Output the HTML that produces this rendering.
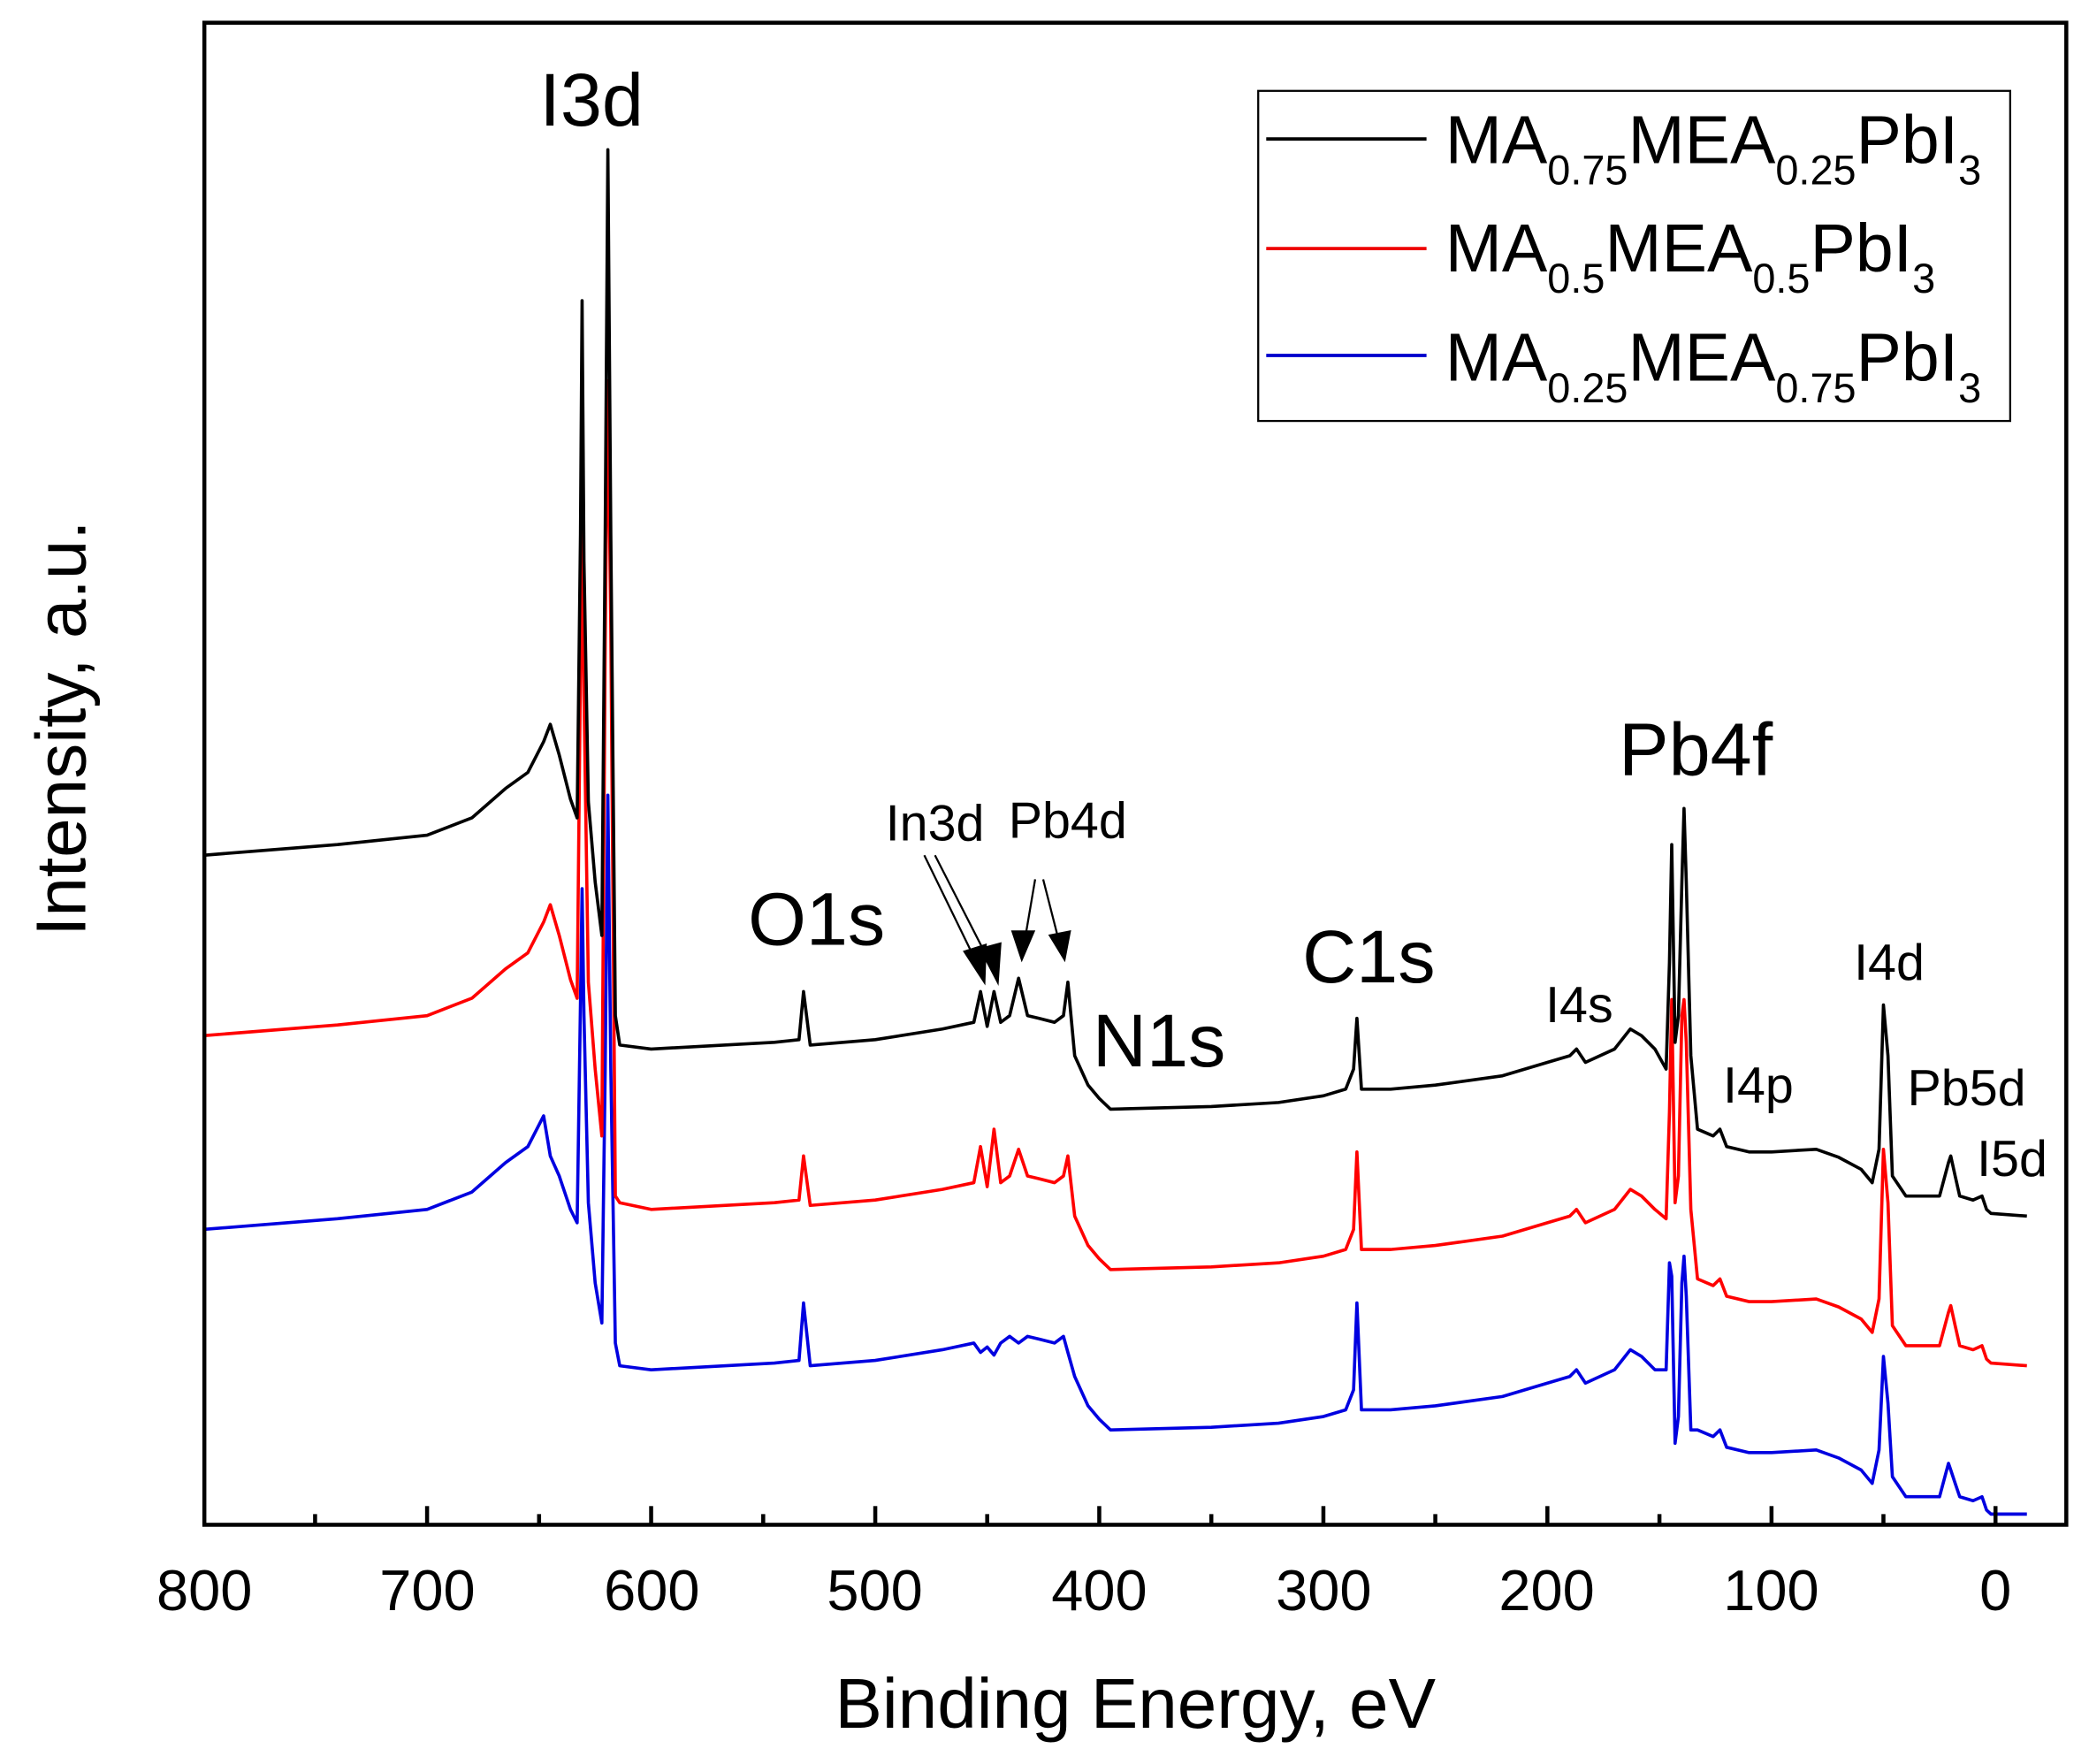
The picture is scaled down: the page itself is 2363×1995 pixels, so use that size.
<!DOCTYPE html>
<html><head><meta charset="utf-8"><style>
html,body{margin:0;padding:0;background:#fff;}
svg{display:block;}
text{font-family:"Liberation Sans",Arial,sans-serif;fill:#000;}
</style></head><body>
<svg width="2363" height="1995" viewBox="0 0 1564 1320" preserveAspectRatio="none" xmlns="http://www.w3.org/2000/svg">
<rect x="0" y="0" width="1564" height="1320" fill="#fff"/>
<g fill="none" stroke-width="2.4" stroke-linejoin="round">
<path stroke="#0000e0" d="M152,920 L252.6,912 L319.75,905 L353.3,892 L378.5,870 L395.2,858 L407,835 L412,865 L418.7,880 L427.1,905 L432.1,915 L434.6,750 L435.8,665 L437.2,760 L440.5,900 L445.6,960 L450.6,990 L453.1,800 L455.1,595 L457.3,800 L460.7,1005 L464,1022 L487.5,1025 L579.8,1020 L598.2,1018 L601.6,975 L606.6,1022 L655.3,1018 L705.6,1010 L729.1,1005 L734.1,1012 L739.1,1008 L744.2,1014 L749.2,1005 L755.9,1000 L762.6,1005 L769.3,1000 L777.7,1002 L789.5,1005 L796.2,1000 L799.5,1012 L804.6,1030 L814.6,1052 L823,1062 L831.4,1070 L906.9,1068 L957.2,1065 L990.8,1060 L1007.5,1055 L1013.4,1040 L1015.9,975 L1019.3,1055 L1041.1,1055 L1074.6,1052 L1124.9,1045 L1158.5,1035 L1175.3,1030 L1180.3,1025 L1187,1035 L1208.8,1025 L1220.6,1010 L1229,1015 L1239,1025 L1247.4,1025 L1249.9,945 L1251.6,955 L1254.1,1080 L1256.6,1060 L1259.2,960 L1260.8,940 L1262.5,970 L1265.9,1070 L1270.9,1070 L1282.6,1075 L1287.7,1070 L1292.7,1083 L1309.5,1087 L1326.3,1087 L1359.8,1085 L1376.6,1091 L1393.4,1100 L1401.7,1110 L1406.8,1085 L1410.1,1015 L1413.5,1050 L1416.8,1105 L1426.9,1120 L1452.1,1120 L1458.8,1095 L1460.5,1100 L1463.8,1110 L1467.2,1120 L1477.2,1123 L1483.9,1120 L1487.3,1130 L1490.6,1133 L1517.5,1133"/>
<path stroke="#ff0000" d="M152,775 L252.6,767 L319.75,760 L353.3,747 L378.5,725 L395.2,713 L407,690 L412,677 L418.7,700 L427.1,733 L432.1,747 L434.6,500 L435.8,380 L437.2,520 L440.5,735 L445.6,800 L450.6,850 L453.1,480 L455.1,285 L457.3,470 L460.7,895 L464,900 L487.5,905 L579.8,900 L598.2,898 L601.6,865 L606.6,902 L655.3,898 L705.6,890 L729.1,885 L734.1,858 L739.1,888 L744.2,845 L749.2,885 L755.9,880 L762.6,860 L769.3,880 L777.7,882 L789.5,885 L796.2,880 L799.5,865 L804.6,910 L814.6,932 L823,942 L831.4,950 L906.9,948 L957.2,945 L990.8,940 L1007.5,935 L1013.4,920 L1015.9,862 L1019.3,935 L1041.1,935 L1074.6,932 L1124.9,925 L1158.5,915 L1175.3,910 L1180.3,905 L1187,915 L1208.8,905 L1220.6,890 L1229,895 L1239,905 L1247.4,912 L1249.9,832 L1251.6,748 L1254.1,900 L1256.6,880 L1259.2,760 L1260.8,748 L1262.5,780 L1265.9,905 L1270.9,957 L1282.6,962 L1287.7,957 L1292.7,970 L1309.5,974 L1326.3,974 L1359.8,972 L1376.6,978 L1393.4,987 L1401.7,997 L1406.8,972 L1410.1,860 L1413.5,900 L1416.8,992 L1426.9,1007 L1452.1,1007 L1458.8,982 L1460.5,977 L1463.8,992 L1467.2,1007 L1477.2,1010 L1483.9,1007 L1487.3,1017 L1490.6,1020 L1517.5,1022"/>
<path stroke="#000" d="M152,640 L252.6,632 L319.75,625 L353.3,612 L378.5,590 L395.2,578 L407,555 L412,542 L418.7,565 L427.1,598 L432.1,612 L434.6,400 L435.8,225 L437.2,420 L440.5,600 L445.6,660 L450.6,700 L453.1,400 L455.1,112 L457.3,400 L460.7,760 L464,782 L487.5,785 L579.8,780 L598.2,778 L601.6,742 L606.6,782 L655.3,778 L705.6,770 L729.1,765 L734.1,742 L739.1,768 L744.2,742 L749.2,765 L755.9,760 L762.6,732 L769.3,760 L777.7,762 L789.5,765 L796.2,760 L799.5,735 L804.6,790 L814.6,812 L823,822 L831.4,830 L906.9,828 L957.2,825 L990.8,820 L1007.5,815 L1013.4,800 L1015.9,762 L1019.3,815 L1041.1,815 L1074.6,812 L1124.9,805 L1158.5,795 L1175.3,790 L1180.3,785 L1187,795 L1208.8,785 L1220.6,770 L1229,775 L1239,785 L1247.4,800 L1249.9,720 L1251.6,632 L1254.1,780 L1256.6,760 L1259.2,660 L1260.8,605 L1262.5,660 L1265.9,790 L1270.9,845 L1282.6,850 L1287.7,845 L1292.7,858 L1309.5,862 L1326.3,862 L1359.8,860 L1376.6,866 L1393.4,875 L1401.7,885 L1406.8,860 L1410.1,752 L1413.5,790 L1416.8,880 L1426.9,895 L1452.1,895 L1458.8,870 L1460.5,865 L1463.8,880 L1467.2,895 L1477.2,898 L1483.9,895 L1487.3,905 L1490.6,908 L1517.5,910"/>
</g>
<rect x="153" y="17" width="1394" height="1124" fill="none" stroke="#000" stroke-width="3"/>
<g stroke="#000" stroke-width="3">
<line x1="1494" y1="1141" x2="1494" y2="1127"/><line x1="1326.3" y1="1141" x2="1326.3" y2="1127"/>
<line x1="1158.5" y1="1141" x2="1158.5" y2="1127"/><line x1="990.8" y1="1141" x2="990.8" y2="1127"/>
<line x1="823" y1="1141" x2="823" y2="1127"/><line x1="655.3" y1="1141" x2="655.3" y2="1127"/>
<line x1="487.5" y1="1141" x2="487.5" y2="1127"/><line x1="319.75" y1="1141" x2="319.75" y2="1127"/>
<line x1="1410.1" y1="1141" x2="1410.1" y2="1133"/><line x1="1242.4" y1="1141" x2="1242.4" y2="1133"/>
<line x1="1074.6" y1="1141" x2="1074.6" y2="1133"/><line x1="906.9" y1="1141" x2="906.9" y2="1133"/>
<line x1="739.1" y1="1141" x2="739.1" y2="1133"/><line x1="571.4" y1="1141" x2="571.4" y2="1133"/>
<line x1="403.6" y1="1141" x2="403.6" y2="1133"/><line x1="235.9" y1="1141" x2="235.9" y2="1133"/>
</g>
<g font-size="43" text-anchor="middle">
<text x="153" y="1205">800</text><text x="320" y="1205">700</text><text x="488" y="1205">600</text>
<text x="655" y="1205">500</text><text x="823" y="1205">400</text><text x="991" y="1205">300</text>
<text x="1158" y="1205">200</text><text x="1326" y="1205">100</text><text x="1494" y="1205">0</text>
</g>
<text x="850" y="1293" font-size="53" text-anchor="middle">Binding Energy, eV</text>
<text transform="translate(64,545) rotate(-90)" font-size="53" text-anchor="middle">Intensity, a.u.</text>
<rect x="942" y="68" width="563" height="247" fill="#fff" stroke="#000" stroke-width="1.5"/>
<line x1="948" y1="104" x2="1068" y2="104" stroke="#000" stroke-width="2.5"/>
<line x1="948" y1="186" x2="1068" y2="186" stroke="#e00" stroke-width="2.5"/>
<line x1="948" y1="266" x2="1068" y2="266" stroke="#00c" stroke-width="2.5"/>
<g font-size="51">
<text x="1082" y="122">MA<tspan font-size="31" dy="16">0.75</tspan><tspan dy="-16">MEA</tspan><tspan font-size="31" dy="16">0.25</tspan><tspan dy="-16">PbI</tspan><tspan font-size="31" dy="16">3</tspan></text>
<text x="1082" y="203">MA<tspan font-size="31" dy="16">0.5</tspan><tspan dy="-16">MEA</tspan><tspan font-size="31" dy="16">0.5</tspan><tspan dy="-16">PbI</tspan><tspan font-size="31" dy="16">3</tspan></text>
<text x="1082" y="285">MA<tspan font-size="31" dy="16">0.25</tspan><tspan dy="-16">MEA</tspan><tspan font-size="31" dy="16">0.75</tspan><tspan dy="-16">PbI</tspan><tspan font-size="31" dy="16">3</tspan></text>
</g>
<g font-size="56">
<text x="404" y="94">I3d</text><text x="560" y="707">O1s</text><text x="818" y="798">N1s</text>
<text x="975" y="735">C1s</text><text x="1212" y="580">Pb4f</text>
</g>
<g font-size="38">
<text x="663" y="629">In3d</text><text x="755" y="627">Pb4d</text><text x="1157" y="765">I4s</text>
<text x="1388" y="733">I4d</text><text x="1290" y="825">I4p</text><text x="1428" y="827">Pb5d</text><text x="1480" y="880">I5d</text>
</g>
<g stroke="#000" stroke-width="1.5" fill="#000">
<line x1="692" y1="640" x2="732" y2="722"/><line x1="700" y1="640" x2="742" y2="722"/>
<polygon points="737,735 722,712 738,707"/><polygon points="747,735 734,710 749,706"/>
<line x1="775" y1="658" x2="767" y2="705"/><polygon points="765,718 758,697 774,697"/>
<line x1="781" y1="658" x2="793" y2="705"/><polygon points="797,718 786,700 801,697"/>
</g>
</svg>
</body></html>
